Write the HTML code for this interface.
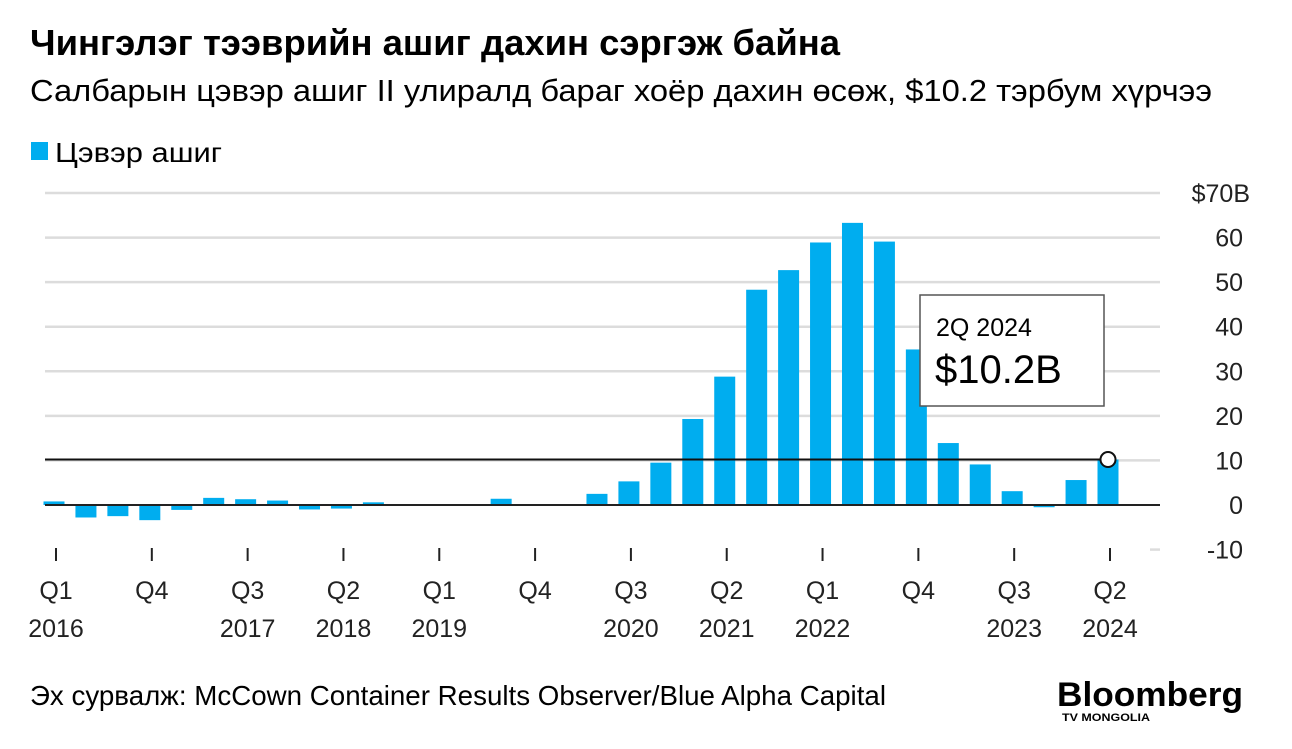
<!DOCTYPE html>
<html><head><meta charset="utf-8"><style>
html,body{margin:0;padding:0;background:#fff;}
svg{display:block;}
text{font-family:"Liberation Sans Narrow","Liberation Sans",sans-serif;fill:#000;}
.ax{font-family:"Liberation Sans",sans-serif;font-size:25px;fill:#222;}
</style></head><body>
<svg id="chart" width="1292" height="749" viewBox="0 0 1292 749">
<text x="30" y="55" font-size="36" font-weight="bold" textLength="810" lengthAdjust="spacingAndGlyphs">Чингэлэг тээврийн ашиг дахин сэргэж байна</text>
<text x="30" y="101" font-size="31" textLength="1182" lengthAdjust="spacingAndGlyphs">Салбарын цэвэр ашиг II улиралд бараг хоёр дахин өсөж, $10.2 тэрбум хүрчээ</text>
<rect x="31" y="142" width="17" height="18" fill="#00adef"/>
<text x="55" y="162" font-size="28" textLength="167" lengthAdjust="spacingAndGlyphs">Цэвэр ашиг</text>
<g id="grid"></g>
<g id="bars"></g>
<g id="xaxis"></g>
<g id="anno"></g>
<text x="30" y="705" font-size="28" textLength="856" lengthAdjust="spacingAndGlyphs">Эх сурвалж:  McCown Container Results Observer/Blue Alpha Capital</text>
<text x="1057" y="706" font-size="34" font-weight="bold" textLength="186" lengthAdjust="spacingAndGlyphs" style="font-family:'Liberation Sans',sans-serif">Bloomberg</text>
<text x="1062" y="721" font-size="11" font-weight="bold" style="font-family:'Liberation Sans',sans-serif" textLength="88" lengthAdjust="spacingAndGlyphs">TV MONGOLIA</text>
</svg>
<script>
const values=[0.8,-2.8,-2.5,-3.4,-1.1,1.6,1.3,1.0,-1.0,-0.8,0.6,0.2,0.2,0.2,1.4,0.2,0.2,2.5,5.3,9.5,19.3,28.8,48.3,52.7,58.9,63.3,59.1,34.9,13.9,9.1,3.1,-0.5,5.6,10.2];
const yTicks=[70,60,50,40,30,20,10,0,-10];
const yTickLabels=["$70B","60","50","40","30","20","10","0","-10"];
const xTickIdx=[0,3,6,9,12,15,18,21,24,27,30,33];
const xTickQ=["Q1","Q4","Q3","Q2","Q1","Q4","Q3","Q2","Q1","Q4","Q3","Q2"];
const xTickYear=["2016","","2017","2018","2019","","2020","2021","2022","","2023","2024"];
const highlightValue=10.2;
</script>
<script>
(function(){
const NS="http://www.w3.org/2000/svg";
const N=values.length;
const y=v=>505-(v)*4.457;
const x=i=>54+i*(1054/(N-1));
const bw=21;
function mk(tag,attrs,parent){const e=document.createElementNS(NS,tag);for(const k in attrs)e.setAttribute(k,attrs[k]);parent.appendChild(e);return e;}
const grid=document.getElementById('grid');
yTicks.forEach((t,i)=>{
  if(t!==0&&t!==-10){const l=mk('line',{x1:45,x2:1160,y1:y(t),y2:y(t),stroke:'#dcdcdc','stroke-width':2.5},grid);
  
  }
  if(t===-10){const l=mk('line',{x1:1150,x2:1160,y1:y(t),y2:y(t),stroke:'#dcdcdc','stroke-width':2.5},grid);
  
  }
  const tx=mk('text',{x:i===0?1250:1243,y:y(t)+9,'text-anchor':'end',class:'ax'},grid);
  tx.textContent=yTickLabels[i];
  
  
});
const bars=document.getElementById('bars');
values.forEach((v,i)=>{
  const top=Math.min(y(v),y(0)),h=Math.max(Math.abs(y(v)-y(0)),1.5);
  const r=mk('rect',{x:x(i)-bw/2,y:top,width:bw,height:h,fill:'#00adef'},bars);
  
  
});
const base=mk('line',{x1:45,x2:1160,y1:y(0),y2:y(0),stroke:'#222','stroke-width':2},bars);


const xa=document.getElementById('xaxis');
xTickIdx.forEach((idx,k)=>{
  const xx=x(idx)+2;
  const t=mk('line',{x1:xx,x2:xx,y1:548,y2:561,stroke:'#222','stroke-width':2},xa);
  
  
  const q=mk('text',{x:xx,y:599,'text-anchor':'middle',class:'ax'},xa);q.textContent=xTickQ[k];
  
  
  if(xTickYear[k]){const yr=mk('text',{x:xx,y:637,'text-anchor':'middle',class:'ax'},xa);yr.textContent=xTickYear[k];
  
  }
});
const an=document.getElementById('anno');
const hl=mk('line',{x1:45,x2:x(N-1),y1:y(highlightValue),y2:y(highlightValue),stroke:'#111','stroke-width':2},an);


const c=mk('circle',{cx:x(N-1),cy:y(highlightValue),r:7.5,fill:'#fff',stroke:'#111','stroke-width':2},an);


const box=mk('rect',{x:920,y:295,width:184,height:111,fill:'#fff',stroke:'#555','stroke-width':1.5},an);


const a1=mk('text',{x:936,y:336,style:"font-family:'Liberation Sans',sans-serif;font-size:25px"},an);a1.textContent='2Q 2024';


const a2=mk('text',{x:935,y:383,style:"font-family:'Liberation Sans',sans-serif;font-size:40px"},an);a2.textContent='$10.2B';


})();
</script>
</body></html>
